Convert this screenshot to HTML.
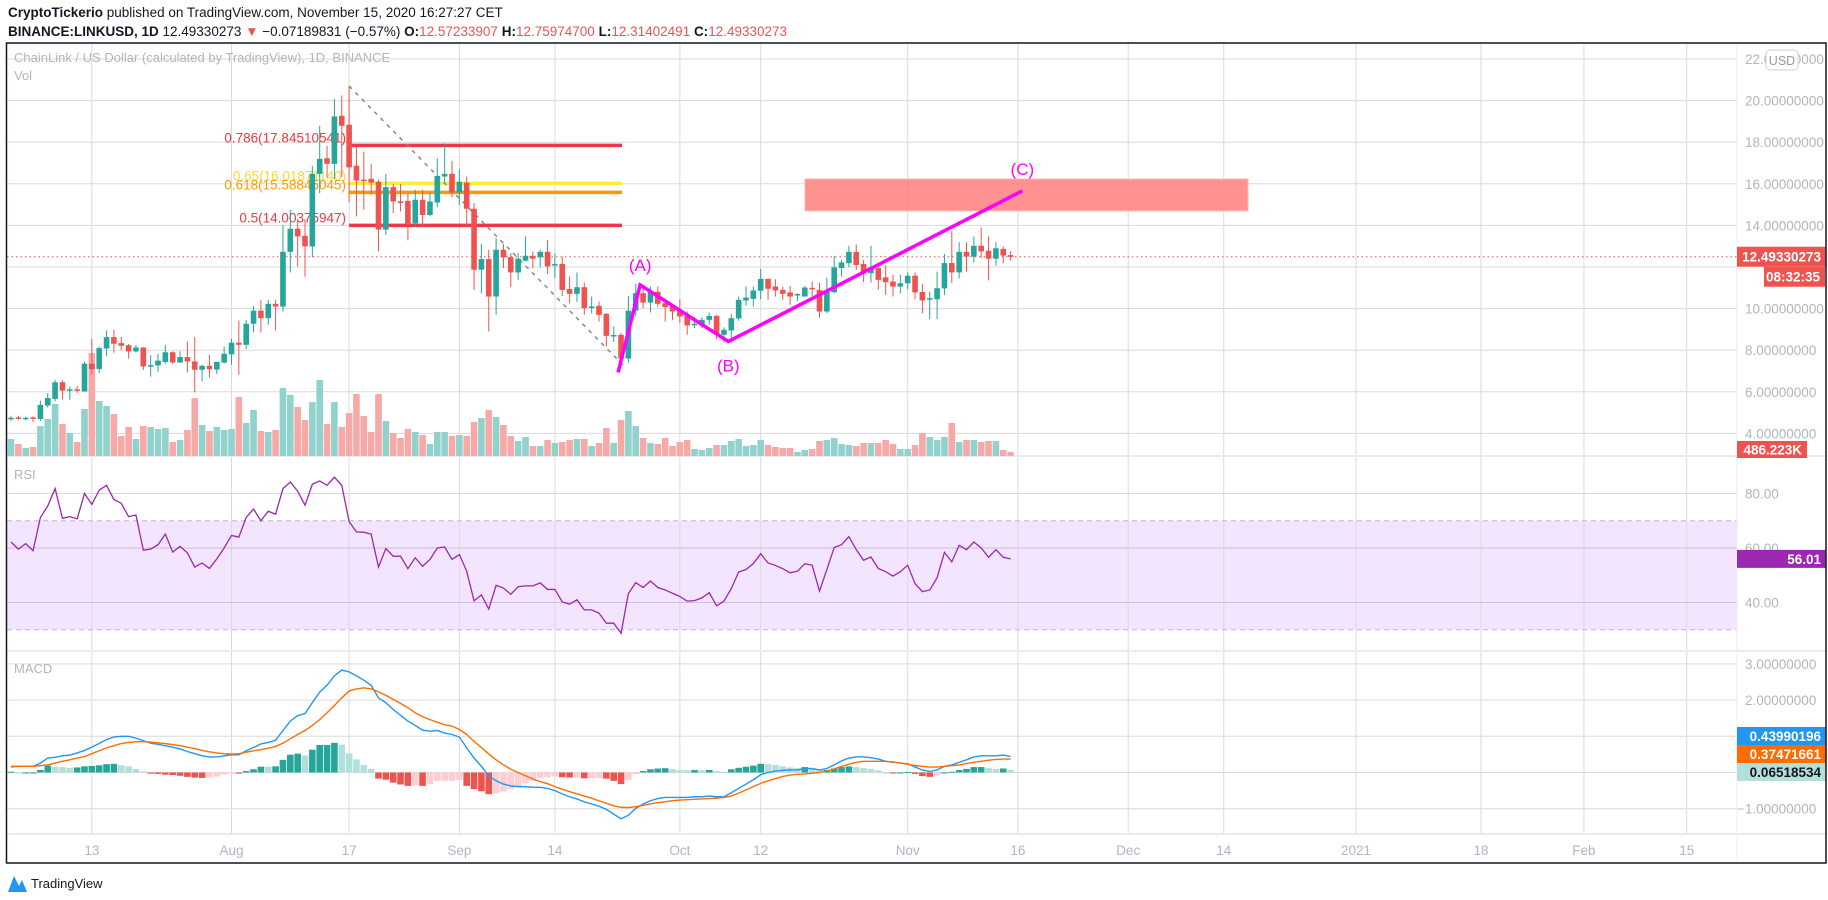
<!DOCTYPE html>
<html><head><meta charset="utf-8"><style>
html,body{margin:0;padding:0;background:#fff;width:1828px;height:900px;overflow:hidden;font-family:"Liberation Sans",sans-serif}
.hdr{position:absolute;left:8px;font-size:13.5px;color:#131722;white-space:nowrap}
.hdr b{font-weight:bold}
.r{color:#ef5350}
</style></head><body>
<div class="hdr" style="top:5px"><b>CryptoTickerio</b> published on TradingView.com, November 15, 2020 16:27:27 CET</div>
<div class="hdr" style="top:24px"><b>BINANCE:LINKUSD, 1D</b> 12.49330273 <span class="r">▼</span> −0.07189831 (−0.57%) <b>O:</b><span class="r">12.57233907</span> <b>H:</b><span class="r">12.75974700</span> <b>L:</b><span class="r">12.31402491</span> <b>C:</b><span class="r">12.49330273</span></div>
<svg id="chart" width="1828" height="900" style="position:absolute;left:0;top:0"></svg>
<script>
const opens=[4.70,4.77,4.70,4.77,4.69,5.34,5.66,6.46,6.06,6.12,6.02,7.35,7.10,8.08,8.63,8.34,8.24,7.94,8.13,7.22,7.27,7.43,7.90,7.41,7.67,7.46,7.06,7.25,7.07,7.41,7.80,8.36,8.26,9.27,9.90,9.54,10.23,10.10,12.73,13.84,13.50,12.99,16.48,17.23,16.96,19.27,18.84,16.87,16.20,16.24,16.10,13.80,15.84,15.15,15.18,14.10,15.23,14.50,15.10,16.35,16.48,15.58,16.06,14.80,11.87,12.38,10.58,12.83,12.47,11.74,12.30,12.54,12.47,12.73,12.10,12.15,10.94,10.71,11.03,10.08,10.13,9.75,8.70,8.74,7.60,9.90,10.74,10.29,10.81,10.26,10.10,9.90,9.65,9.20,9.23,9.46,9.65,8.74,8.95,9.53,10.39,10.47,10.86,11.43,11.06,10.90,10.78,10.65,10.58,11.00,10.90,9.86,10.79,11.95,12.18,12.73,12.14,11.70,11.95,11.50,11.30,11.06,11.22,11.58,10.80,10.45,10.45,10.97,12.19,11.74,12.73,12.50,13.02,12.78,12.40,12.87,12.57];
const highs=[4.85,4.85,4.80,4.82,5.57,5.94,6.58,6.55,6.25,6.28,7.45,8.55,8.18,8.95,8.98,8.63,8.30,8.25,8.14,7.76,7.83,8.25,7.95,7.95,8.42,8.63,7.30,7.78,7.40,8.18,8.55,9.43,9.46,10.13,10.42,10.42,10.42,14.03,14.75,14.30,14.30,16.87,18.79,17.82,20.09,20.25,20.70,17.80,17.55,16.96,16.19,16.48,16.00,16.00,15.55,15.71,15.71,15.55,17.23,17.95,17.10,16.70,16.35,15.07,13.11,12.83,13.39,13.11,12.67,12.67,13.47,12.75,12.83,13.30,12.67,12.50,11.54,11.74,11.25,10.58,10.34,9.78,9.14,8.82,10.61,11.19,10.98,11.06,11.06,10.50,10.23,10.45,9.86,9.59,9.59,9.81,9.70,9.10,9.74,10.58,11.06,11.06,11.91,11.43,11.41,11.06,11.09,10.74,11.09,11.30,11.25,11.49,12.54,12.34,13.02,13.08,12.34,13.02,12.18,12.08,11.62,11.62,11.75,11.73,11.19,10.82,11.78,12.63,13.74,13.19,13.19,13.47,13.90,13.47,13.19,12.99,12.76];
const lows=[4.60,4.65,4.62,4.55,4.60,5.25,5.55,5.62,5.62,5.95,6.00,6.85,6.90,7.72,7.88,8.02,7.60,7.90,7.05,6.73,6.96,7.35,7.35,7.38,6.93,5.97,6.50,6.68,6.86,7.35,7.30,6.82,8.05,8.87,8.85,9.22,8.95,9.86,11.74,12.02,11.54,12.46,15.55,16.30,16.22,16.32,15.10,14.43,14.75,15.47,12.75,13.55,14.59,14.67,13.28,13.95,13.95,14.43,14.88,16.03,15.36,14.99,13.95,10.90,10.74,8.90,9.70,11.95,11.03,11.38,12.27,11.95,11.98,11.67,11.46,10.60,10.25,10.33,9.70,9.78,9.38,8.18,8.40,7.30,7.40,9.62,10.02,9.81,10.10,9.38,9.46,9.30,8.74,9.06,9.06,9.22,8.53,8.37,8.37,9.42,10.13,10.10,10.45,10.42,10.58,10.42,10.18,10.37,10.58,10.61,9.56,9.78,10.74,11.54,11.98,11.86,11.27,11.25,10.90,10.66,10.58,10.74,10.93,10.45,9.78,9.49,9.49,10.66,11.22,11.45,11.78,12.22,12.43,11.35,12.07,12.18,12.31];
const closes=[4.75,4.73,4.75,4.72,5.37,5.70,6.46,6.06,6.12,6.06,7.35,7.09,8.10,8.63,8.31,8.21,7.94,8.13,7.22,7.28,7.50,7.90,7.41,7.67,7.46,7.06,7.25,7.09,7.44,7.83,8.36,8.26,9.27,9.90,9.54,10.23,10.10,12.73,13.84,13.47,12.99,16.48,17.20,16.96,19.24,18.79,16.79,16.16,16.15,16.06,13.80,15.84,15.15,15.13,14.08,15.23,14.50,15.15,16.38,16.48,15.58,16.10,14.80,11.87,12.38,10.58,12.83,12.46,11.74,12.40,12.54,12.40,12.73,12.03,12.14,10.90,10.71,11.03,10.02,10.10,9.70,8.69,8.73,7.60,9.90,10.74,10.29,10.81,10.23,10.07,9.86,9.62,9.19,9.27,9.46,9.65,8.74,8.98,9.54,10.42,10.53,10.87,11.43,10.95,10.87,10.71,10.58,10.70,11.01,10.93,9.86,10.80,11.98,12.22,12.73,12.10,11.70,11.98,11.38,11.27,11.06,11.22,11.58,10.78,10.39,10.50,10.98,12.19,11.74,12.73,12.50,13.02,12.75,12.40,12.90,12.55,12.49];
const volumes=[17,12,8,9,30,37,52,32,23,14,47,103,55,50,42,20,29,17,30,29,27,28,14,16,26,58,31,25,29,26,27,59,33,46,25,24,26,68,61,49,36,54,76,32,54,29,43,62,40,24,62,35,23,18,27,24,21,12,24,24,20,21,20,34,38,46,39,31,20,15,19,10,10,16,13,14,16,17,17,10,13,28,13,36,45,30,18,13,12,18,10,14,16,7,6,8,11,11,15,17,10,11,16,11,9,8,8,4,6,7,15,16,18,12,11,10,13,13,13,16,12,7,7,11,23,19,16,19,33,14,16,16,14,15,15,6,4];
const rsi=[62.2,59.6,61.6,59.0,71.2,75.4,81.8,70.9,71.5,70.7,80,76,81.2,83,77.8,76.4,71.5,72.1,59.2,59.6,61.2,65.1,58.5,60.6,58.2,53,54.5,52.5,56,60,64.6,64,71.2,74.3,70,73.5,72.4,81.8,84.2,80.9,75.7,83.4,84.6,83,86,83,69.7,65.9,65.8,65.1,53,59.8,57,57,52.4,56.4,53.3,55.8,60,60.4,55.8,57.6,51.5,40.6,42.8,37.6,46.3,45.3,43,45.8,46.1,46.1,47.2,44.8,44.8,40.2,39.4,41,37.3,37.3,36.1,32.4,32.4,28.7,43.3,47.3,45.5,47.9,45.5,44.6,43.4,42.2,40.5,40.7,41.7,43.6,38.8,40.5,45.1,51.2,52.1,54.3,57.9,54.5,53.6,52.4,50.9,51.5,54.2,53.7,44.2,52.1,60.2,61.2,64.2,59.4,55.5,56.7,52.5,51.3,49.7,51.3,53.7,46.9,44,44.6,49.1,58.4,54.9,61,59.4,62.2,60,56.6,59.4,56.6,56.01];
const macdLine=[0.17,0.17,0.17,0.17,0.26,0.40,0.42,0.46,0.48,0.54,0.61,0.70,0.80,0.91,0.98,1.00,1.00,0.95,0.88,0.81,0.78,0.74,0.70,0.65,0.58,0.52,0.46,0.43,0.43,0.46,0.49,0.49,0.60,0.69,0.79,0.83,0.89,1.16,1.42,1.57,1.63,1.93,2.22,2.41,2.67,2.83,2.78,2.67,2.55,2.41,2.06,1.93,1.74,1.58,1.42,1.30,1.17,1.14,1.16,1.09,1.05,0.98,0.68,0.40,0.17,-0.09,-0.23,-0.32,-0.37,-0.39,-0.39,-0.41,-0.41,-0.44,-0.50,-0.59,-0.67,-0.73,-0.81,-0.87,-0.93,-1.02,-1.15,-1.28,-1.18,-0.99,-0.87,-0.78,-0.72,-0.69,-0.69,-0.69,-0.69,-0.67,-0.67,-0.65,-0.67,-0.67,-0.56,-0.44,-0.32,-0.20,-0.06,0.00,0.04,0.06,0.07,0.07,0.11,0.11,0.07,0.11,0.21,0.32,0.40,0.43,0.43,0.41,0.37,0.31,0.28,0.26,0.24,0.15,0.07,0.03,0.07,0.17,0.21,0.28,0.35,0.43,0.46,0.46,0.46,0.48,0.44];
const signalLine=[0.15,0.17,0.17,0.17,0.19,0.21,0.26,0.31,0.35,0.40,0.44,0.52,0.60,0.68,0.74,0.80,0.83,0.85,0.85,0.84,0.82,0.80,0.77,0.74,0.70,0.66,0.61,0.57,0.54,0.52,0.51,0.52,0.56,0.60,0.63,0.67,0.72,0.81,0.93,1.05,1.16,1.30,1.46,1.65,1.85,2.06,2.25,2.31,2.34,2.31,2.23,2.13,2.02,1.91,1.79,1.65,1.54,1.46,1.39,1.32,1.28,1.19,1.05,0.86,0.69,0.51,0.35,0.21,0.09,0.00,-0.09,-0.18,-0.25,-0.31,-0.39,-0.46,-0.53,-0.59,-0.65,-0.71,-0.78,-0.85,-0.92,-0.96,-0.97,-0.94,-0.91,-0.87,-0.83,-0.81,-0.78,-0.76,-0.75,-0.74,-0.73,-0.72,-0.71,-0.69,-0.65,-0.57,-0.48,-0.39,-0.30,-0.23,-0.17,-0.11,-0.07,-0.05,-0.04,-0.02,0.00,0.04,0.10,0.17,0.23,0.28,0.31,0.31,0.31,0.31,0.29,0.26,0.23,0.19,0.17,0.15,0.15,0.17,0.19,0.21,0.25,0.28,0.31,0.34,0.36,0.37,0.37];
const priceTicks=[22,20,18,16,14,10,8,6,4];
const rsiTicks=[80,60,40];
const macdTicks=[3,2,-1];
const timeLabels=["13","Aug","17","Sep","14","Oct","12","Nov","16","Dec","14","2021","18","Feb","15"];
const timeLabelIdx=[11,30,46,61,74,91,102,122,137,152,165,183,200,214,228];
const fibLevels=[0.786,0.65,0.618,0.5];
const fibPrices=[17.84510541,16.01871140,15.58845045,14.00375947];
const fibColors=["#f23645","#ffeb3b","#ff9800","#f23645"];
const fibTextColors=["#f23645","#fdd835","#ff9800","#f23645"];
const waveLabels=["","(A)","(B)","(C)"];
const waveIdx=[82.6,85.6,97.6,137.6];
const wavePrices=[6.93,11.14,8.42,15.66];
const lastPrice=12.49330273;

const NS="http://www.w3.org/2000/svg";
const svg=document.getElementById('chart');
const L=7,R=1737,FR=1826,TOP=43;
const X=i=>11+7.35*i;
const Y=p=>59+(22-p)*20.8;
const VB=456, V=v=>VB-v*1.0;
const RY=v=>548-(v-60)*2.725;
const MY=v=>772.5-v*36.2;
function el(tag,attrs,parent){const e=document.createElementNS(NS,tag);for(const k in attrs)e.setAttribute(k,attrs[k]);(parent||svg).appendChild(e);return e;}
function txt(s,attrs,parent){const e=el('text',attrs,parent);e.textContent=s;return e;}

let band=el('rect',{x:L,y:RY(70),width:R-L,height:RY(30)-RY(70),fill:'#f3e5fd'});



const grid=el('g',{stroke:'#dadada','stroke-width':1});


timeLabelIdx.forEach(i=>{el('line',{x1:X(i),x2:X(i),y1:TOP,y2:834},grid);});
priceTicks.concat([12]).forEach(p=>el('line',{x1:L,x2:R,y1:Y(p),y2:Y(p)},grid));
rsiTicks.forEach(v=>el('line',{x1:L,x2:R,y1:RY(v),y2:RY(v),stroke:v==80?'#dadada':'#cdbfdc'},grid));
macdTicks.concat([1,0]).forEach(v=>el('line',{x1:L,x2:R,y1:MY(v),y2:MY(v)},grid));
[30,70].forEach(v=>el('line',{x1:L,x2:R,y1:RY(v),y2:RY(v),stroke:'#c4b3d6','stroke-dasharray':'5,4'},grid));
[456,651,834].forEach(y=>el('line',{x1:L,x2:FR,y1:y,y2:y,stroke:'#e8ecf0','stroke-width':2}));
el('line',{x1:R,x2:R,y1:TOP,y2:863,stroke:'#eeeeee'});

let t=txt('ChainLink / US Dollar (calculated by TradingView), 1D, BINANCE',{x:14,y:62,fill:'#b2b5be','font-size':13});


t=txt('Vol',{x:14,y:80,fill:'#b2b5be','font-size':13});


t=txt('RSI',{x:14,y:479,fill:'#b2b5be','font-size':13});


t=txt('MACD',{x:14,y:673,fill:'#b2b5be','font-size':13});



const vg=el('g',{});


volumes.forEach((v,i)=>{const up=closes[i]>=opens[i];
 const b=el('rect',{x:X(i)-3.3,y:V(v),width:6.6,height:VB-V(v),fill:up?'#92d2cc':'#f7a9a7'},vg);
 
 });

const fg=el('g',{});


fibPrices.forEach((p,k)=>{
 const ln=el('line',{x1:X(46),x2:622,y1:Y(p),y2:Y(p),stroke:fibColors[k],'stroke-width':3.5},fg);
 
 
 const tx=txt(fibLevels[k]+'('+p.toFixed(8)+')',{x:346,y:Y(p)-3,'text-anchor':'end',fill:fibTextColors[k],'font-size':13.5},fg);
 
 
});
let dl=el('line',{x1:X(46),y1:Y(20.7),x2:X(83.5),y2:Y(7.2),stroke:'#888','stroke-width':1.5,'stroke-dasharray':'4,5'});



let zr=el('rect',{x:805,y:Y(16.23),width:443,height:Y(14.7)-Y(16.23),fill:'#ff8585','fill-opacity':0.9,stroke:'#ffb3b3'});



let lp=el('line',{x1:L,x2:R,y1:Y(lastPrice),y2:Y(lastPrice),stroke:'#ef5350','stroke-dasharray':'1.5,3'});



const cg=el('g',{});


opens.forEach((o,i)=>{const c=closes[i],up=c>=o,col=up?'#26a69a':'#ef5350',x=X(i);
 const g=el('g',{},cg);
 
 
 el('line',{x1:x,x2:x,y1:Y(highs[i]),y2:Y(lows[i]),stroke:col,'stroke-width':1},g);
 const top=Y(Math.max(o,c)),h=Math.max(1.5,Math.abs(Y(o)-Y(c)));
 el('rect',{x:x-2.8,y:top,width:5.6,height:h,fill:col},g);});

const wp=waveIdx.map((w,k)=>X(w)+','+Y(wavePrices[k])).join(' ');
let wl=el('polyline',{points:wp,fill:'none',stroke:'#ff00ff','stroke-width':3.5});


const wOff=[0,-14,30,-16];
waveLabels.forEach((s,k)=>{if(!s)return;const tt=txt(s,{x:X(waveIdx[k]),y:Y(wavePrices[k])+wOff[k],'text-anchor':'middle',fill:'#ff00ff','font-size':17},svg);
 
 });

let rl=el('polyline',{points:rsi.map((v,i)=>X(i)+','+RY(v)).join(' '),fill:'none',stroke:'#9c27b0','stroke-width':1.3});



const hg=el('g',{});


macdLine.forEach((m,i)=>{const h=m-signalLine[i],ph=i?macdLine[i-1]-signalLine[i-1]:h;
 let col=h>=0?(h>=ph?'#26a69a':'#b2dfdb'):(h<ph?'#ef5350':'#ffcdd2');
 const y0=MY(0),y1=MY(h);
 const b=el('rect',{x:X(i)-3.3,y:Math.min(y0,y1),width:6.6,height:Math.max(1,Math.abs(y1-y0)),fill:col},hg);
 
 });
let ml=el('polyline',{points:macdLine.map((v,i)=>X(i)+','+MY(v)).join(' '),fill:'none',stroke:'#2196f3','stroke-width':1.4});


let sl=el('polyline',{points:signalLine.map((v,i)=>X(i)+','+MY(v)).join(' '),fill:'none',stroke:'#ff6d00','stroke-width':1.4});



const ax=el('g',{fill:'#b2b5be','font-size':13.5});


priceTicks.forEach(p=>txt(p.toFixed(8),{x:1745,y:Y(p)+5},ax));
rsiTicks.forEach(v=>txt(v.toFixed(2),{x:1745,y:RY(v)+5},ax));
macdTicks.forEach(v=>txt((v<0?'−':'')+Math.abs(v).toFixed(8),{x:v<0?1737:1745,y:MY(v)+5},ax));
const tx=el('g',{fill:'#b2b5be','font-size':13.5,'text-anchor':'middle'});


timeLabels.forEach((s,k)=>txt(s,{x:X(timeLabelIdx[k]),y:855},tx));

function box(x,y,w,h,fill,s,tc,name){const g=el('g',{});
 
 
 el('rect',{x:x,y:y,width:w,height:h,fill:fill},g);
 txt(s,{x:x+w-5,y:y+h/2+5,'text-anchor':'end',fill:tc,'font-size':13.5,'font-weight':'bold'},g);}
box(1737,Y(lastPrice)-10,89,20,'#ef5350',lastPrice.toFixed(8),'#fff','last-price-label');
box(1764,Y(lastPrice)+10,61,20,'#ef5350','08:32:35','#fff','countdown-label');
box(1737,441,70,17,'#ef5350','486.223K','#fff','volume-label');
box(1737,RY(rsi[rsi.length-1])-9,89,18,'#9c27b0',rsi[rsi.length-1].toFixed(2),'#fff','rsi-value-label');
box(1737,727,89,18,'#2196f3','0.43990196','#fff','macd-value-label');
box(1737,745,89,18,'#ff6d00','0.37471661','#fff','signal-value-label');
box(1737,763,89,18,'#b2dfdb','0.06518534','#131722','histogram-value-label');
const ub=el('g',{});


el('rect',{x:1766,y:50,width:32,height:20,rx:4,fill:'#fff',stroke:'#cfd2d8'},ub);
txt('USD',{x:1782,y:65,'text-anchor':'middle',fill:'#9598a1','font-size':12.5},ub);

let fr=el('rect',{x:L-0.5,y:TOP,width:FR-L+0.5,height:863-TOP,fill:'none',stroke:'#131722','stroke-width':1.5});



const lg=el('g',{});


el('path',{d:'M8 892 L14 876 L19 886 L22 880 L27 892 Z',fill:'#2196f3'},lg);
txt('TradingView',{x:31,y:888,fill:'#131722','font-size':13},lg);
</script>
</body></html>
